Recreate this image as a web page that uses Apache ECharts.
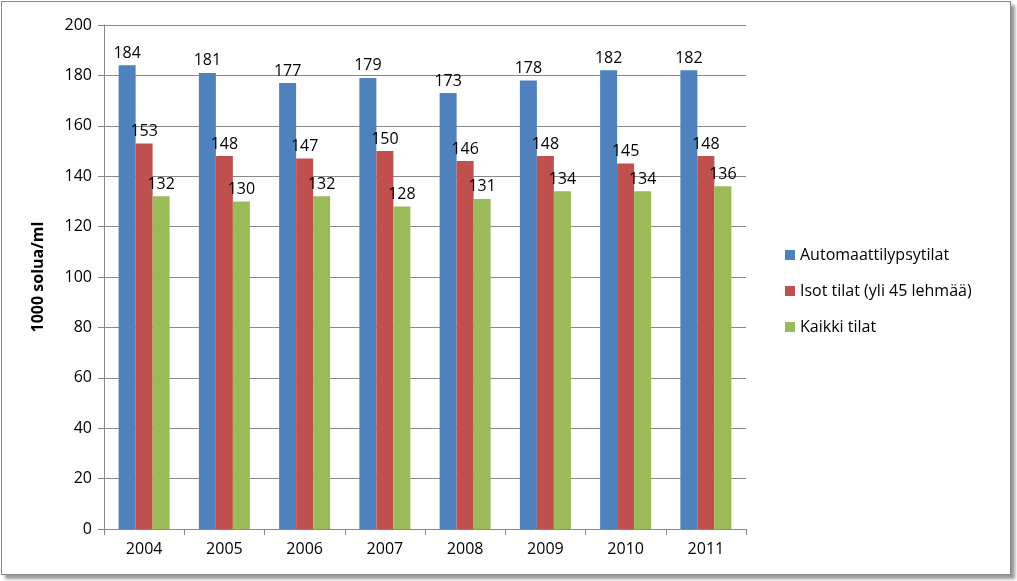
<!DOCTYPE html>
<html lang="fi">
<head>
  <meta charset="UTF-8">
  <title>Solupitoisuus</title>
  <style>
    html, body { width: 100%; height: 100%; margin: 0; padding: 0; background: #fff; }
    #frame {
      position: absolute; left: 1px; top: 1px; width: 1008px; height: 572px;
      border: 1px solid #888; box-shadow: 4px 4px 3px #999; background: #fff;
    }
    #chart { width: 100%; height: 100%; }
  </style>
</head>
<body>
  <div id="frame"><div id="chart"></div></div>
  <script src="https://cdn.jsdelivr.net/npm/echarts@6/dist/echarts.min.js"></script>
  <script>
    var years = ['2004', '2005', '2006', '2007', '2008', '2009', '2010', '2011'];
    var automaatti = [184, 181, 177, 179, 173, 178, 182, 182];
    var isot = [153, 148, 147, 150, 146, 148, 145, 148];
    var kaikki = [132, 130, 132, 128, 131, 134, 134, 136];

    var font = 'Open Sans, Liberation Sans, sans-serif';
    var label = { show: true, position: 'top', color: '#000', fontSize: 16, fontFamily: font, distance: 4 };
    function bar(name, data, color) {
      return { name: name, type: 'bar', data: data, barWidth: 17, barGap: '0%',
        itemStyle: { color: color }, label: label };
    }

    var chart = echarts.init(document.getElementById('chart'));
    chart.setOption({
      animation: false,
      grid: { left: 102, right: 264, top: 23, bottom: 45 },
      legend: {
        orient: 'vertical', left: 778, top: 240, itemGap: 20,
        itemWidth: 10, itemHeight: 10, icon: 'rect',
        textStyle: { fontSize: 16, fontFamily: font, color: '#000' }
      },
      xAxis: {
        type: 'category', data: years,
        axisLine: { lineStyle: { color: '#888' } },
        axisTick: { show: true, length: 6, lineStyle: { color: '#888' } },
        axisLabel: { fontSize: 16, fontFamily: font, color: '#000', margin: 12 }
      },
      yAxis: {
        type: 'value', min: 0, max: 200, interval: 20,
        name: '1000 solua/ml', nameLocation: 'middle', nameGap: 58, nameRotate: 90,
        nameTextStyle: { fontSize: 16, fontWeight: 'bold', fontFamily: font, color: '#000' },
        axisLine: { show: true, lineStyle: { color: '#888' } },
        axisTick: { show: true, length: 6, inside: false, lineStyle: { color: '#888' } },
        axisLabel: { fontSize: 16, fontFamily: font, color: '#000', margin: 12 },
        splitLine: { lineStyle: { color: '#888' } }
      },
      series: [
        bar('Automaattilypsytilat', automaatti, '#4f81bd'),
        bar('Isot tilat (yli 45 lehmää)', isot, '#c0504d'),
        bar('Kaikki tilat', kaikki, '#9bbb59')
      ]
    });
  </script>
</body>
</html>
